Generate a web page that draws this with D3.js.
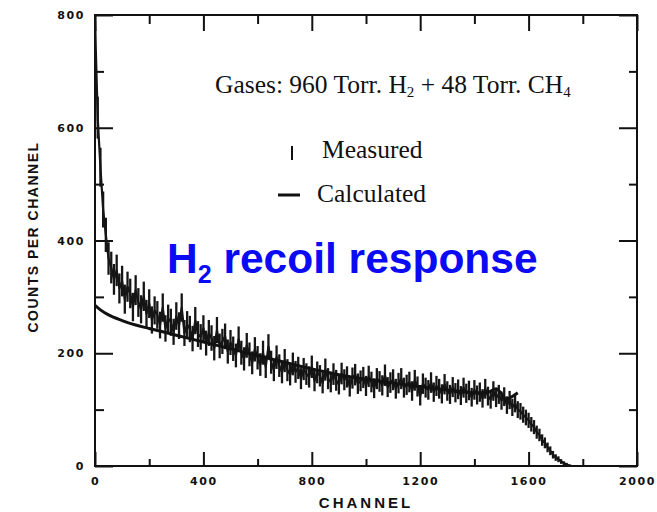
<!DOCTYPE html>
<html>
<head>
<meta charset="utf-8">
<script src="https://cdn.jsdelivr.net/npm/d3@7"></script>
<style>
  html, body { margin: 0; padding: 0; background: #fff; }
  svg { display: block; }
</style>
</head>
<body>
<svg id="chart" width="657" height="512"></svg>
<script>
// Measured spectrum: counts per channel, sampled every 10 channels from channel 0
const measuredStart = 0;
const measuredStep = 10;
const measuredCounts = [
  790, 618, 530, 455, 410, 368, 352, 331, 347, 315,
  328, 296, 318, 306, 282, 312, 290, 278, 301, 270,
  288, 259, 276, 268, 250, 281, 244, 262, 255, 238,
  266, 249, 281, 236, 251, 243, 226, 258, 234, 229,
  244, 218, 236, 227, 209, 241, 213, 221, 230, 203,
  219, 208, 196, 225, 201, 190, 214, 198, 183, 207,
  192, 180, 201, 176, 212, 184, 170, 193, 178, 166,
  187, 170, 162, 181, 167, 174, 155, 172, 163, 158,
  176, 151, 166, 160, 147, 171, 155, 149, 163, 152,
  145, 164, 153, 158, 141, 156, 162, 146, 151, 157,
  142, 159, 149, 138, 155, 150, 143, 161, 140, 148,
  153, 137, 147, 155, 139, 144, 149, 133, 152, 141,
  124, 146, 139, 135, 148, 131, 142, 137, 128, 145,
  133, 127, 140, 130, 136, 125, 139, 129, 134, 122,
  135, 126, 131, 120, 137, 124, 118, 133, 121, 127,
  116, 123, 108, 117, 104, 111, 100, 97, 91, 86,
  81, 74, 69, 60, 55, 46, 41, 33, 27, 20,
  15, 12, 8, 5, 3, 1, 0
];

// Calculated response curve
const calcChannels = [0, 20, 50, 100, 150, 200, 300, 400, 500, 600, 700, 800, 900, 1000,
                      1100, 1200, 1300, 1400, 1450, 1480, 1500, 1515, 1535, 1560];
const calcCounts = [285, 277, 268, 258, 250, 244, 232, 220, 208, 196, 184, 172, 162, 154,
                    147, 141, 135, 130, 131, 137, 128, 118, 122, 130];

// Axis ticks
const xMajorTicks = [0, 400, 800, 1200, 1600, 2000];
const xMinorTicks = [200, 600, 1000, 1400, 1800];
const yMajorTicks = [0, 200, 400, 600, 800];
const yMinorTicks = [100, 300, 500, 700];

const svg = d3.select("#chart");
const plotLeft = 95, plotRight = 637, plotTop = 15, plotBottom = 466;

const x = d3.scaleLinear().domain([0, 2000]).range([plotLeft, plotRight]);
const y = d3.scaleLinear().domain([0, 800]).range([plotBottom, plotTop]);

const tickFont = "'DejaVu Sans', sans-serif";

function styleAxis(g, withLabels) {
  g.select(".domain").remove();
  g.selectAll(".tick line").attr("stroke", "#111").attr("stroke-width", 2);
  if (withLabels) {
    g.selectAll(".tick text")
      .attr("fill", "#111")
      .attr("font-family", tickFont)
      .attr("font-weight", "bold")
      .attr("font-size", 11)
      .attr("letter-spacing", "1.6px");
  } else {
    g.selectAll(".tick text").remove();
  }
}

// Bottom axis (labelled), ticks pointing inward
svg.append("g").attr("transform", `translate(0,${plotBottom})`)
  .call(d3.axisBottom(x).tickValues(xMajorTicks).tickSize(-14).tickPadding(11).tickFormat(d3.format("d")))
  .call(g => styleAxis(g, true));
svg.append("g").attr("transform", `translate(0,${plotBottom})`)
  .call(d3.axisBottom(x).tickValues(xMinorTicks).tickSize(-7).tickFormat(""))
  .call(g => styleAxis(g, false));

// Top axis, ticks only
svg.append("g").attr("transform", `translate(0,${plotTop})`)
  .call(d3.axisTop(x).tickValues(xMajorTicks).tickSize(-16).tickFormat(""))
  .call(g => styleAxis(g, false));
svg.append("g").attr("transform", `translate(0,${plotTop})`)
  .call(d3.axisTop(x).tickValues(xMinorTicks).tickSize(-9).tickFormat(""))
  .call(g => styleAxis(g, false));

// Left axis (labelled)
svg.append("g").attr("transform", `translate(${plotLeft},0)`)
  .call(d3.axisLeft(y).tickValues(yMajorTicks).tickSize(-18).tickPadding(10).tickFormat(d3.format("d")))
  .call(g => styleAxis(g, true));
svg.append("g").attr("transform", `translate(${plotLeft},0)`)
  .call(d3.axisLeft(y).tickValues(yMinorTicks).tickSize(-9).tickFormat(""))
  .call(g => styleAxis(g, false));

// Right axis, ticks only
svg.append("g").attr("transform", `translate(${plotRight},0)`)
  .call(d3.axisRight(y).tickValues(yMajorTicks).tickSize(-18).tickFormat(""))
  .call(g => styleAxis(g, false));
svg.append("g").attr("transform", `translate(${plotRight},0)`)
  .call(d3.axisRight(y).tickValues(yMinorTicks).tickSize(-8).tickFormat(""))
  .call(g => styleAxis(g, false));

// Frame
svg.append("rect")
  .attr("x", plotLeft).attr("y", plotTop)
  .attr("width", plotRight - plotLeft).attr("height", plotBottom - plotTop)
  .attr("fill", "none").attr("stroke", "#111").attr("stroke-width", 2);

// Clip to plot area
svg.append("clipPath").attr("id", "plotClip")
  .append("rect").attr("x", plotLeft).attr("y", plotTop - 1)
  .attr("width", plotRight - plotLeft).attr("height", plotBottom - plotTop + 1);

const plot = svg.append("g").attr("clip-path", "url(#plotClip)");

const measured = measuredCounts.map((c, i) => ({ ch: measuredStart + i * measuredStep, c }));

// Measured: error bars (1.5 sigma, Poisson) plus trace through the points
const errScale = 1.5;
plot.append("g").selectAll("line").data(measured).join("line")
  .attr("x1", d => x(d.ch)).attr("x2", d => x(d.ch))
  .attr("y1", d => y(d.c + errScale * Math.sqrt(d.c)))
  .attr("y2", d => y(Math.max(0, d.c - errScale * Math.sqrt(d.c))))
  .attr("stroke", "#151515").attr("stroke-width", 2.3);

plot.append("path").datum(measured)
  .attr("fill", "none").attr("stroke", "#151515").attr("stroke-width", 2.2)
  .attr("stroke-linejoin", "round")
  .attr("d", d3.line().x(d => x(d.ch)).y(d => y(d.c)));

// Calculated curve
const calc = calcChannels.map((ch, i) => ({ ch, c: calcCounts[i] }));
plot.append("path").datum(calc)
  .attr("fill", "none").attr("stroke", "#111").attr("stroke-width", 3)
  .attr("stroke-linejoin", "round")
  .attr("d", d3.line().x(d => x(d.ch)).y(d => y(d.c)).curve(d3.curveMonotoneX));

// Axis titles
svg.append("text")
  .attr("x", 366).attr("y", 508)
  .attr("text-anchor", "middle")
  .attr("font-family", "'Liberation Sans', Arial, sans-serif")
  .attr("font-weight", "bold").attr("font-size", 15)
  .attr("letter-spacing", "3px")
  .attr("fill", "#111")
  .text("CHANNEL");

svg.append("text")
  .attr("transform", "translate(38,237) rotate(-90)")
  .attr("text-anchor", "middle")
  .attr("font-family", "'Liberation Sans', Arial, sans-serif")
  .attr("font-weight", "bold").attr("font-size", 14)
  .attr("letter-spacing", "1.5px")
  .attr("fill", "#111")
  .text("COUNTS PER CHANNEL");

// Gas mixture annotation
const serif = "'Liberation Serif', 'Times New Roman', serif";
const gas = svg.append("text")
  .attr("x", 215).attr("y", 93)
  .attr("font-family", serif).attr("font-size", 25.5).attr("fill", "#111");
gas.append("tspan").text("Gases: 960 Torr. H");
gas.append("tspan").attr("font-size", 15).attr("dy", 4).text("2");
gas.append("tspan").attr("dy", -4).text(" + 48 Torr. CH");
gas.append("tspan").attr("font-size", 15).attr("dy", 4).text("4");

// Legend
svg.append("line")
  .attr("x1", 292).attr("x2", 292).attr("y1", 146).attr("y2", 160)
  .attr("stroke", "#111").attr("stroke-width", 2);
svg.append("text")
  .attr("x", 322).attr("y", 158)
  .attr("font-family", serif).attr("font-size", 25.5).attr("fill", "#111")
  .text("Measured");
svg.append("line")
  .attr("x1", 278).attr("x2", 300).attr("y1", 195).attr("y2", 195)
  .attr("stroke", "#111").attr("stroke-width", 3);
svg.append("text")
  .attr("x", 317).attr("y", 202)
  .attr("font-family", serif).attr("font-size", 25.5).attr("fill", "#111")
  .text("Calculated");

// Overlay title
const title = svg.append("text")
  .attr("x", 167).attr("y", 273)
  .attr("font-family", "'Liberation Sans', Arial, sans-serif")
  .attr("font-weight", "bold").attr("font-size", 42.5)
  .attr("fill", "#0a0af5");
title.append("tspan").text("H");
title.append("tspan").attr("font-size", 25).attr("dy", 10).text("2");
title.append("tspan").attr("dy", -10).text(" recoil response");
</script>
</body>
</html>
